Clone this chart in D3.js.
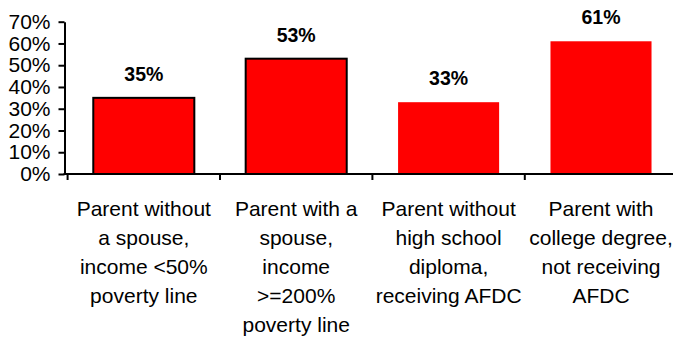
<!DOCTYPE html>
<html>
<head>
<meta charset="utf-8">
<script src="https://cdn.jsdelivr.net/npm/d3@7"></script>
<style>
  html, body { margin: 0; padding: 0; background: #fff; }
  svg { display: block; }
  text { font-family: "Liberation Sans", Arial, sans-serif; fill: #000; }
</style>
</head>
<body>
<svg id="chart" width="673" height="337"></svg>
<script>
const categories = [
  ["Parent without", "a spouse,", "income <50%", "poverty line"],
  ["Parent with a", "spouse,", "income", ">=200%", "poverty line"],
  ["Parent without", "high school", "diploma,", "receiving AFDC"],
  ["Parent with", "college degree,", "not receiving", "AFDC"]
];
const values = [35, 53, 33, 61];
const outlined = [true, true, false, false];
const yTicks = [0, 10, 20, 30, 40, 50, 60, 70];

const svg = d3.select("#chart");
const W = 673;
const yAxisX = 64.5;
const xRange = [67.6, 677.2];

const x = d3.scaleBand()
  .domain(d3.range(categories.length))
  .range(xRange)
  .paddingInner(0.337)
  .paddingOuter(0.337 / 2);

const y = d3.scaleLinear().domain([0, 70]).range([174, 21.7]);

// bars
svg.append("g").selectAll("rect")
  .data(values)
  .join("rect")
  .attr("x", (d, i) => x(i))
  .attr("width", x.bandwidth())
  .attr("y", d => y(d))
  .attr("height", d => y(0) - y(d))
  .attr("fill", "#ff0000")
  .attr("stroke", (d, i) => outlined[i] ? "#000" : "none")
  .attr("stroke-width", 2);

// value labels
svg.append("g").selectAll("text")
  .data(values)
  .join("text")
  .attr("x", (d, i) => x(i) + x.bandwidth() / 2)
  .attr("y", d => y(d) - 17)
  .attr("text-anchor", "middle")
  .attr("font-size", 19.5)
  .attr("font-weight", "bold")
  .text(d => d + "%");

// y axis
const yAxis = d3.axisLeft(y)
  .tickValues(yTicks)
  .tickSize(6)
  .tickSizeOuter(0)
  .tickPadding(8)
  .tickFormat(d => d + "%");
const gy = svg.append("g")
  .attr("transform", `translate(${yAxisX},0)`)
  .call(yAxis);
gy.select(".domain").attr("stroke", "#000").attr("stroke-width", 2);
gy.selectAll(".tick line").attr("stroke", "#000").attr("stroke-width", 2);
gy.selectAll(".tick text")
  .attr("font-size", 21)
  .attr("font-family", "'Liberation Sans', Arial, sans-serif")
  .attr("fill", "#000");

// x axis line
svg.append("line")
  .attr("x1", yAxisX - 1).attr("x2", W)
  .attr("y1", y(0)).attr("y2", y(0))
  .attr("stroke", "#000").attr("stroke-width", 2);

// category boundary ticks
const step = x.step();
const boundaries = d3.range(categories.length).map(i => x(i) - step * x.paddingOuter());
svg.append("g").selectAll("line")
  .data(boundaries)
  .join("line")
  .attr("x1", d => d).attr("x2", d => d)
  .attr("y1", y(0)).attr("y2", y(0) + 6)
  .attr("stroke", "#000").attr("stroke-width", 2);

// category labels
const catG = svg.append("g").selectAll("text")
  .data(categories)
  .join("text")
  .attr("text-anchor", "middle")
  .attr("font-size", 21)
  .attr("transform", (d, i) => `translate(${x(i) + x.bandwidth() / 2},215.5)`);
catG.selectAll("tspan")
  .data(d => d)
  .join("tspan")
  .attr("x", 0)
  .attr("y", (d, j) => j * 29)
  .text(d => d);
</script>
</body>
</html>
